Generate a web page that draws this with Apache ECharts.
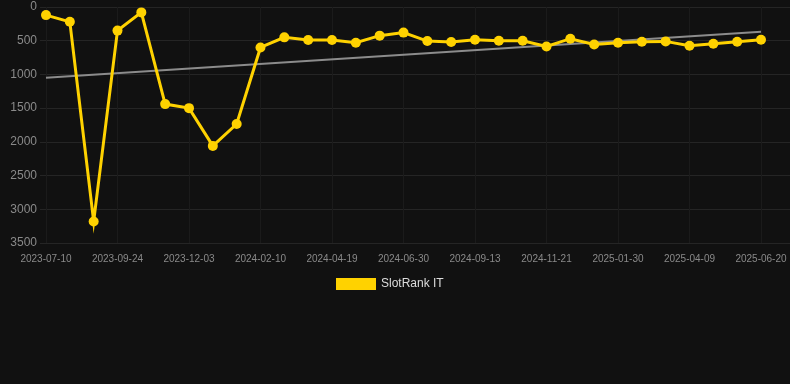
<!DOCTYPE html>
<html>
<head>
<meta charset="utf-8">
<title>SlotRank IT</title>
<script src="https://cdn.jsdelivr.net/npm/echarts@6/dist/echarts.min.js"></script>
<style>
    html, body { margin: 0; padding: 0; background: #111111; }
    #chart { width: 790px; height: 384px; }
</style>
</head>
<body>
<div id="chart"></div>
<script>
// dates (only every 3rd one is printed on the axis)
var dates = [
    '2023-07-10', '2023-08-04', '2023-08-29', '2023-09-24', '2023-10-17', '2023-11-10',
    '2023-12-03', '2023-12-26', '2024-01-18', '2024-02-10', '2024-03-04', '2024-03-27',
    '2024-04-19', '2024-05-13', '2024-06-06', '2024-06-30', '2024-07-25', '2024-08-19',
    '2024-09-13', '2024-10-05', '2024-10-28', '2024-11-21', '2024-12-14', '2025-01-06',
    '2025-01-30', '2025-02-22', '2025-03-17', '2025-04-09', '2025-05-02', '2025-05-26',
    '2025-06-20'
];

// rank values
var ranks = [
    120, 220, 3180, 350, 80, 1440, 1500, 2060, 1735, 600,
    450, 490, 490, 530, 425, 380, 505, 520, 485, 500,
    500, 585, 470, 555, 530, 515, 510, 575, 545, 515,
    485
];

// trend line end points (first and last date)
var trendEnds = [1050, 366];

// label positions on the axis
var labelIdx = [0, 3, 6, 9, 12, 15, 18, 21, 24, 27, 30];

var yTicks = { min: 0, max: 3500, step: 500 };

window.onload = function () {

    var chart = echarts.init(document.getElementById('chart'));

    var lineData = ranks.map(function (v, i) { return [i, v]; });
    var trendData = [[0, trendEnds[0]], [ranks.length - 1, trendEnds[1]]];

    var option = {
        backgroundColor: '#111111',
        animation: false,
        textStyle: { fontFamily: 'Liberation Sans, Arial, sans-serif' },
        grid: { left: 40, right: 0, top: 7, bottom: 141 },
        legend: {
            data: ['SlotRank IT'],
            top: 273,
            left: 331,
            itemWidth: 40,
            itemHeight: 12,
            itemGap: 10,
            icon: 'rect',
            textStyle: { color: '#dddddd', fontSize: 12 }
        },
        xAxis: {
            type: 'value',
            min: -0.2517,
            max: 31.217,
            axisLine: { show: false },
            axisTick: { show: false, customValues: labelIdx },
            splitLine: { show: true, lineStyle: { color: '#1b1b1b', width: 1 } },
            axisLabel: {
                customValues: labelIdx,
                color: '#8a8a8a',
                fontSize: 10,
                margin: 11,
                formatter: function (v) { return dates[Math.round(v)] || ''; }
            }
        },
        yAxis: {
            type: 'value',
            inverse: true,
            min: yTicks.min,
            max: yTicks.max,
            interval: yTicks.step,
            axisLine: { show: false },
            axisTick: { show: false },
            splitLine: { lineStyle: { color: '#252525', width: 1 } },
            axisLabel: {
                color: '#8a8a8a',
                fontSize: 12,
                margin: 3,
                formatter: function (v) { return String(v); }
            }
        },
        series: [
            {
                name: 'trend',
                type: 'line',
                data: trendData,
                symbol: 'none',
                silent: true,
                lineStyle: { color: '#8c8c8c', width: 2 },
                z: 1
            },
            {
                name: 'SlotRank IT',
                type: 'line',
                data: lineData,
                color: '#ffd200',
                symbol: 'circle',
                symbolSize: 10,
                itemStyle: { color: '#ffd200' },
                lineStyle: { color: '#ffd200', width: 3, join: 'miter', miterLimit: 10 },
                z: 3
            }
        ]
    };

    chart.setOption(option);
};
</script>
</body>
</html>
